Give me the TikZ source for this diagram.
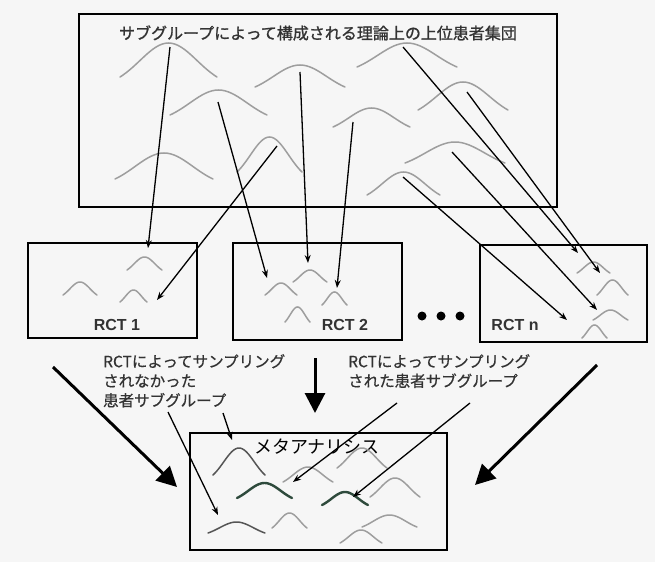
\documentclass[tikz,border=0pt]{standalone}
\usepackage{fontspec}
\usetikzlibrary{arrows.meta}
\newfontfamily\jp{Noto Sans CJK JP}
\newfontfamily\jpbold{Noto Sans CJK JP}[FakeBold=1.2]
\newfontfamily\jpmid{Noto Sans CJK JP}[FakeBold=0.6]
\newfontfamily\lab{Liberation Sans}
\definecolor{bellgray}{HTML}{9E9E9E}
\definecolor{belldark}{HTML}{555555}
\definecolor{bellgreen}{HTML}{2E4A3C}
\definecolor{inkgray}{HTML}{333333}
\definecolor{paper}{HTML}{F6F6F6}
% bell curve: style, left x, right x, peak y, base y
\newcommand\bellcurve[5]{%
  \draw[#1, line cap=round] plot[domain=-1.7:1.7, samples=31, smooth]
    ({(#2+#3)/2 + (#3-#2)/3.4*\x}, {#5 - (#5-#4)/0.764*(exp(-\x*\x/2)-0.236)});%
}
\tikzset{
  frame/.style={draw=black, line width=1.8pt, minimum width=#1},
  thin bell/.style={bellgray, line width=1.5pt},
  dark bell/.style={belldark, line width=1.5pt},
  green bell/.style={bellgreen, line width=2.4pt},
  link/.style={black, line width=1.3pt, -{Stealth[length=8pt, width=6pt]}},
  bigarrow/.style={black, line width=3pt, -{Triangle[length=20pt, width=20pt]}},
  jplabel/.style={inner sep=0pt, anchor=north west, align=left, text=inkgray,
    font=\jpmid\fontsize{15.5}{19.5}\selectfont},
}
\begin{document}
\begin{tikzpicture}[x=1pt, y=-1pt]
\fill[paper] (0,0) rectangle (655,562);
\useasboundingbox (0,0) rectangle (655,562);

% boxes
\node[frame=478pt, minimum height=193pt] (pop) at (318,110.5) {};
\node[frame=169pt, minimum height=95pt] (rct1) at (112.5,290.5) {};
\node[frame=169pt, minimum height=97pt] (rct2) at (317.5,291.5) {};
\node[frame=167pt, minimum height=97pt] (rctn) at (563.5,293.5) {};
\node[frame=257pt, minimum height=117pt] (meta) at (318.5,491.5) {};

% titles
\node[text=inkgray, font=\jpbold\fontsize{16}{16}\selectfont] (poptitle) at (318,33)
  {サブグループによって構成される理論上の上位患者集団};
\node[text=black, font=\jp\fontsize{18}{18}\selectfont] (metatitle) at (317,447) {メタアナリシス};
\node[text=inkgray, font=\lab\bfseries\fontsize{16}{16}\selectfont] (l1) at (117,325) {RCT 1};
\node[text=inkgray, font=\lab\bfseries\fontsize{16}{16}\selectfont] (l2) at (345,325) {RCT 2};
\node[text=inkgray, font=\lab\bfseries\fontsize{16}{16}\selectfont] (ln) at (515,325) {RCT n};

% ellipsis dots
\foreach \px/\nm in {422/d1, 441/d2, 460/d3}
  \fill[black] (\px,316) circle (4.5pt) coordinate (\nm);

% subgroups of the population
\bellcurve{thin bell}{120}{217}{43}{77}
\bellcurve{thin bell}{255}{345}{65}{87}
\bellcurve{thin bell}{357}{457}{43}{67}
\bellcurve{thin bell}{170}{267}{90}{115}
\bellcurve{thin bell}{333}{410}{108}{127}
\bellcurve{thin bell}{418}{508}{82}{110}
\bellcurve{thin bell}{115}{213}{153}{179}
\bellcurve{thin bell}{237}{302}{137}{172}
\bellcurve{thin bell}{405}{505}{142}{163}
\bellcurve{thin bell}{367}{440}{172}{195}

% subgroups in each trial
\bellcurve{thin bell}{127}{162}{257}{270}
\bellcurve{thin bell}{63}{97}{282}{295}
\bellcurve{thin bell}{120}{147}{290}{302}
\bellcurve{thin bell}{265}{297}{283}{295}
\bellcurve{thin bell}{293}{327}{270}{282}
\bellcurve{thin bell}{285}{310}{307}{322}
\bellcurve{thin bell}{322}{347}{292}{305}
\bellcurve{thin bell}{577}{610}{262}{273}
\bellcurve{thin bell}{597}{628}{280}{295}
\bellcurve{thin bell}{593}{628}{310}{320}
\bellcurve{thin bell}{582}{607}{325}{338}

% subgroups in the meta-analysis
\bellcurve{dark bell}{213}{265}{448}{475}
\bellcurve{green bell}{237}{292}{483}{498}
\bellcurve{green bell}{322}{368}{492}{505}
\bellcurve{thin bell}{283}{333}{467}{482}
\bellcurve{thin bell}{337}{387}{448}{468}
\bellcurve{thin bell}{370}{420}{478}{497}
\bellcurve{dark bell}{208}{265}{522}{533}
\bellcurve{thin bell}{272}{307}{513}{528}
\bellcurve{thin bell}{362}{417}{515}{527}
\bellcurve{thin bell}{340}{382}{530}{543}

% sampling links
\coordinate (a0) at (170,47);  \coordinate (a1) at (148,248);
\coordinate (b0) at (218,102); \coordinate (b1) at (267,278);
\coordinate (c0) at (277,146); \coordinate (c1) at (157,300);
\coordinate (e0) at (300,72);  \coordinate (e1) at (308,263);
\coordinate (f0) at (353,122); \coordinate (f1) at (337,288);
\coordinate (g0) at (403,47);  \coordinate (g1) at (578,253);
\coordinate (h0) at (467,92);  \coordinate (h1) at (600,273);
\coordinate (i0) at (452,152); \coordinate (i1) at (597,310);
\coordinate (j0) at (403,177); \coordinate (j1) at (567,320);
\foreach \s in {a,b,c,e,f,g,h,i,j}
  \draw[link] (\s0) -- (\s1);

% pooling arrows
\coordinate (p0) at (53,367);  \coordinate (p1) at (177,487);
\coordinate (q0) at (315,358); \coordinate (q1) at (315,413);
\coordinate (r0) at (597,365); \coordinate (r1) at (475,485);
\draw[bigarrow] (p0) -- (p1);
\draw[bigarrow] (q0) -- (q1);
\draw[bigarrow] (r0) -- (r1);

% annotations
\node[jplabel] (notsampled) at (103,354) {RCTによってサンプリング\\されなかった\\患者サブグループ};
\node[jplabel] (sampled) at (348,354) {RCTによってサンプリング\\された患者サブグループ};
\coordinate (m0) at (168,412); \coordinate (m1) at (218,515);
\coordinate (n0) at (223,413); \coordinate (n1) at (232,440);
\coordinate (o0) at (397,403); \coordinate (o1) at (293,482);
\coordinate (s0) at (470,403); \coordinate (s1) at (353,497);
\foreach \s in {m,n,o,s}
  \draw[link] (\s0) -- (\s1);
\end{tikzpicture}
\end{document}
